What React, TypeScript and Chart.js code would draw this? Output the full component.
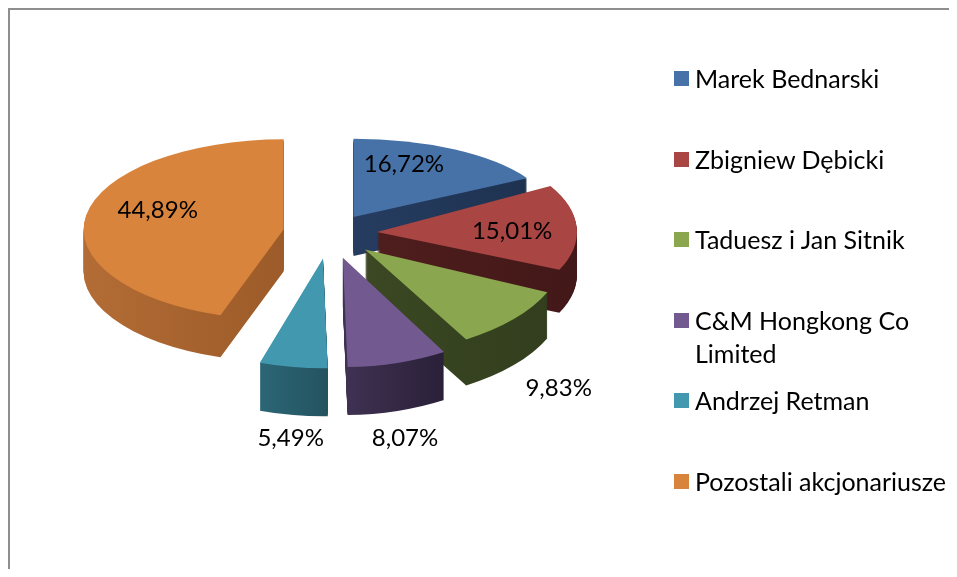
import React, { useEffect, useRef } from 'react';
import { Chart, registerables } from 'chart.js';

Chart.register(...registerables);

const shareholders = [
  'Marek Bednarski',
  'Zbigniew Dębicki',
  'Taduesz i Jan Sitnik',
  'C&M Hongkong Co Limited',
  'Andrzej Retman',
  'Pozostali akcjonariusze',
];
const shares = [16.72, 15.01, 9.83, 8.07, 5.49, 44.89];
const shareLabels = ['16,72%', '15,01%', '9,83%', '8,07%', '5,49%', '44,89%'];

const topColors = ['#4672a8', '#a94543', '#8aa64f', '#725990', '#4298af', '#d9843c'];
const wallLight = ['#263d61', '#4f1d1d', '#3b4823', '#403253', '#2c6676', '#b36c35'];
const wallDark = ['#1e3250', '#431818', '#323e1d', '#2a2038', '#24535f', '#9c5b29'];

// label placement: fraction across the slice angle, radius factor, below the wall or not
const labelFrac = [0.337, 0.54, 0.52, 0.553, 0.456, 0.561];
const labelRadius = [0.726, 0.676, 1.316, 1.255, 1.214, 0.666];
const labelOutside = [false, false, true, true, true, false];

const W = 949;
const H = 569;
const RADIUS = 200;
const TILT_BASE = 0.465;
const TILT_PERSP = 0.085;
const EXPLODE = 47;
const DEPTH_BASE = 43;
const DEPTH_PERSP = 5;
const FONT = 'Lato, "DejaVu Sans", sans-serif';
const LABEL_SIZE = 24;
const LEGEND_SIZE = 25;

const LEGEND_TOP = 63;
const LEGEND_STEP = 80.6;

const pie3d = {
  id: 'pie3d',
  beforeDatasetsDraw(chart: any) {
    const meta = chart.getDatasetMeta(0);
    const ctx: CanvasRenderingContext2D = chart.ctx;
    const arcs = meta.data as any[];
    if (!arcs.length) return false;
    const cx = arcs[0].x;
    const cy = arcs[0].y;
    const R = arcs[0].outerRadius;

    const geo = arcs.map((arc) => {
      const h = (arc.startAngle + arc.endAngle) / 2;
      const s = Math.sin(h);
      return { h, tilt: TILT_BASE + TILT_PERSP * s, depth: DEPTH_BASE + DEPTH_PERSP * s };
    });

    const place = (j: number, i: number) => {
      const g = geo[i];
      ctx.translate(0, j);
      ctx.translate(cx, cy);
      ctx.scale(1, g.tilt);
      ctx.translate(-cx, -cy);
      ctx.translate(Math.cos(g.h) * EXPLODE, Math.sin(g.h) * EXPLODE);
    };

    // back-to-front order
    const order = geo
      .map((g, i) => ({ i, y: Math.sin(g.h) }))
      .sort((a, b) => a.y - b.y)
      .map((o) => o.i);

    order.forEach((i) => {
      const arc = arcs[i];
      let minX = cx;
      let maxX = cx;
      for (let s = 0; s <= 40; s++) {
        const t = arc.startAngle + ((arc.endAngle - arc.startAngle) * s) / 40;
        const x = cx + R * Math.cos(t);
        minX = Math.min(minX, x);
        maxX = Math.max(maxX, x);
      }
      const grad = ctx.createLinearGradient(minX, 0, maxX, 0);
      grad.addColorStop(0, wallLight[i]);
      grad.addColorStop(1, wallDark[i]);
      const orig = arc.options;
      arc.options = { ...orig, backgroundColor: grad, borderWidth: 0 };
      const d = Math.round(geo[i].depth);
      for (let j = d; j >= 1; j--) {
        ctx.save();
        place(j, i);
        arc.draw(ctx);
        ctx.restore();
      }
      arc.options = orig;
      ctx.save();
      place(0, i);
      arc.draw(ctx);
      ctx.restore();
    });

    // data labels
    ctx.save();
    ctx.font = `${LABEL_SIZE}px ${FONT}`;
    ctx.fillStyle = '#000000';
    ctx.textAlign = 'center';
    ctx.textBaseline = 'middle';
    arcs.forEach((arc, i) => {
      const g = geo[i];
      const t = arc.startAngle + (arc.endAngle - arc.startAngle) * labelFrac[i];
      const r = R * labelRadius[i];
      const px = cx + Math.cos(g.h) * EXPLODE + Math.cos(t) * r;
      const py = cy + Math.sin(g.h) * EXPLODE + Math.sin(t) * r;
      const sy = cy + (py - cy) * g.tilt + (labelOutside[i] ? g.depth : 0);
      ctx.fillText(shareLabels[i], px, sy);
    });
    ctx.restore();
    return false;
  },
};

export default function App() {
  const canvasRef = useRef<HTMLCanvasElement | null>(null);

  useEffect(() => {
    const canvas = canvasRef.current;
    if (!canvas) return;
    const chart = new Chart(canvas, {
      type: 'pie',
      data: {
        labels: shareholders,
        datasets: [
          {
            data: shares,
            backgroundColor: topColors,
            borderWidth: 0,
            clip: false as any,
          },
        ],
      },
      options: {
        animation: false,
        responsive: false,
        events: [],
        radius: RADIUS,
        // chart-area centre placed at (322, 225)
        layout: { padding: { left: 0, right: 305, top: 0, bottom: 119 } },
        plugins: {
          legend: { display: false },
          tooltip: { enabled: false },
        },
      } as any,
      plugins: [pie3d],
    });
    return () => chart.destroy();
  }, []);

  return (
    <div
      style={{
        position: 'relative',
        width: W,
        height: H,
        marginBottom: -8,
        boxSizing: 'border-box',
        borderTop: '2px solid #8e8e8e',
        borderLeft: '2px solid #8e8e8e',
      }}
    >
      <canvas
        ref={canvasRef}
        width={W}
        height={H}
        style={{ position: 'absolute', left: -2, top: -2, width: W, height: H }}
      />
      {shareholders.map((name, i) => {
        const top = LEGEND_TOP + i * LEGEND_STEP - 2;
        return (
          <div key={name}>
            <div
              style={{
                position: 'absolute',
                left: 664,
                top,
                width: 15,
                height: 15,
                background: topColors[i],
              }}
            />
            <div
              style={{
                position: 'absolute',
                left: 685,
                top: top - 9,
                width: 258,
                fontFamily: FONT,
                fontSize: LEGEND_SIZE,
                lineHeight: '33px',
                color: '#000',
              }}
            >
              {name}
            </div>
          </div>
        );
      })}
    </div>
  );
}
